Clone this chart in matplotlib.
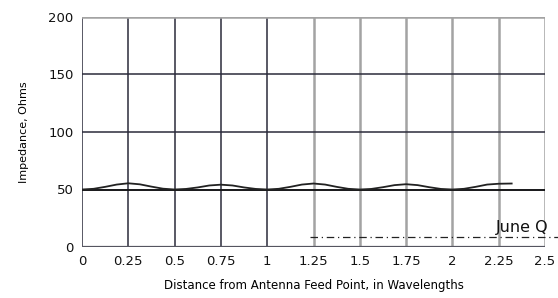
import matplotlib
matplotlib.use("Agg")
import matplotlib.pyplot as plt

# Data
dist = [0, 0.0625, 0.125, 0.1875, 0.25, 0.3125, 0.375, 0.4375, 0.5,
        0.5625, 0.625, 0.6875, 0.75, 0.8125, 0.875, 0.9375, 1.0,
        1.0625, 1.125, 1.1875, 1.25, 1.3125, 1.375, 1.4375, 1.5,
        1.5625, 1.625, 1.6875, 1.75, 1.8125, 1.875, 1.9375, 2.0,
        2.0625, 2.125, 2.1875, 2.25, 2.32]
impedance = [50, 50.6, 52.3, 54.3, 55.4, 54.5, 52.5, 50.7, 50,
             50.5, 51.8, 53.5, 54.2, 53.5, 51.8, 50.5, 50,
             50.6, 52.3, 54.3, 55.2, 54.3, 52.3, 50.6, 50,
             50.5, 52.0, 53.8, 54.6, 53.8, 52.0, 50.5, 50,
             50.6, 52.3, 54.3, 55.0, 55.2]
ref_x = [0, 2.5]
ref_y = [50, 50]

xticks = [0, 0.25, 0.5, 0.75, 1, 1.25, 1.5, 1.75, 2, 2.25, 2.5]
xtick_labels = ["0", "0.25", "0.5", "0.75", "1", "1.25", "1.5", "1.75", "2", "2.25", "2.5"]
yticks = [0, 50, 100, 150, 200]

fig = plt.figure(figsize=(5.58, 2.98), dpi=100)
ax = fig.add_axes([82/558, 51/298, 463/558, 230/298])
ax.set_xlim(0, 2.5)
ax.set_ylim(0, 200)

dark = "#2b2b3b"
grey = "#a3a3a3"
for x in xticks:
    if x <= 1:
        ax.axvline(x, color=dark, lw=1.1, zorder=1)
    else:
        ax.axvline(x, color=grey, lw=1.8, zorder=1)
for y in yticks:
    if y == 200:
        ax.axhline(y, color=grey, lw=1.8, zorder=1)
    elif y == 0:
        ax.axhline(y, color="#555560", lw=1.6, zorder=1)
    else:
        ax.axhline(y, color=dark, lw=1.1, zorder=1)

ax.plot(ref_x, ref_y, color="#111111", lw=1.2, zorder=3)
ax.plot(dist, impedance, color="#222222", lw=1.3, zorder=4)

for s in ax.spines.values():
    s.set_visible(False)

ax.set_xticks(xticks)
ax.set_xticklabels(xtick_labels)
ax.set_yticks(yticks)
ax.tick_params(length=0, labelsize=9.5, pad=6, colors="#111111")
ax.set_xlabel("Distance from Antenna Feed Point, in Wavelengths", fontsize=8.5, labelpad=8)
ax.set_ylabel("Impedance, Ohms", fontsize=8, labelpad=14)

# Overlapping caption fragment at right
fig.text(496/558, 1 - 232/298, "June Q", fontsize=11.5, ha="left", va="baseline", color="#111111")
ax.plot([1.23, 2.6], [8.7, 8.7], color="#222222", lw=0.9, ls=(0, (6, 3, 1, 3)),
        clip_on=False, zorder=5)

fig.savefig("out.png", dpi=100)
